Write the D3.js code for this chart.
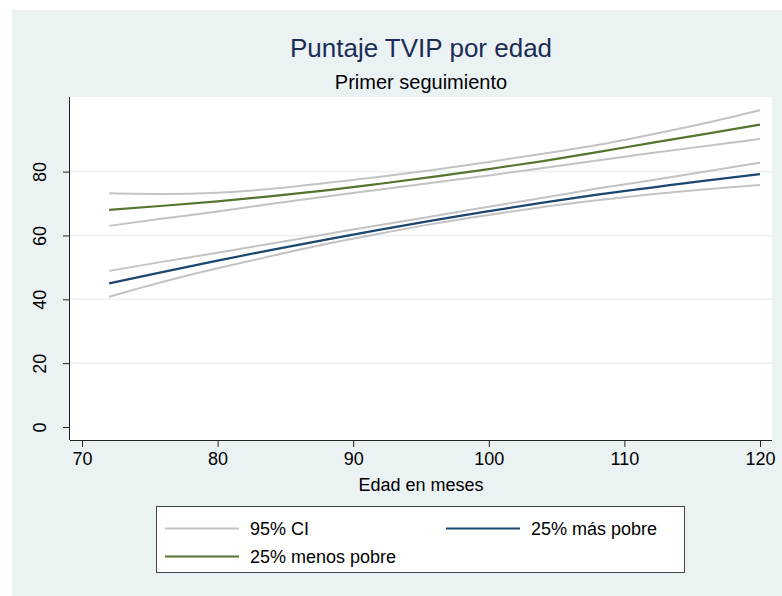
<!DOCTYPE html>
<html>
<head>
<meta charset="utf-8">
<script src="https://cdn.jsdelivr.net/npm/d3@7"></script>
<style>
  body { margin: 0; background: #ffffff; }
  text { font-family: "Liberation Sans", Arial, sans-serif; }
</style>
</head>
<body>
<div id="vis"></div>
<script>
// edad en meses
var ages = [72, 76, 80, 84, 88, 92, 96, 100, 104, 108, 112, 116, 120];

// 25% menos pobre, con IC 95%
var menos_pobre    = [68.0, 69.3, 70.7, 72.3, 74.1, 76.2, 78.4, 80.8, 83.3, 86.1, 89.0, 91.8, 94.7];
var menos_pobre_lo = [63.0, 65.3, 67.5, 69.9, 72.2, 74.4, 76.6, 78.8, 81.1, 83.5, 85.8, 88.0, 90.2];
var menos_pobre_hi = [73.2, 73.0, 73.4, 74.6, 76.4, 78.4, 80.6, 83.0, 85.6, 88.3, 91.6, 95.2, 99.2];

// 25% más pobre, con IC 95%
var mas_pobre    = [45.0, 48.6, 52.1, 55.5, 58.7, 61.8, 64.8, 67.6, 70.3, 72.8, 75.0, 77.2, 79.2];
var mas_pobre_lo = [40.8, 45.5, 49.7, 53.6, 57.3, 60.6, 63.7, 66.4, 68.9, 71.0, 72.9, 74.5, 75.8];
var mas_pobre_hi = [48.9, 51.8, 54.6, 57.5, 60.4, 63.3, 66.1, 69.0, 71.8, 74.7, 77.3, 80.0, 82.8];

var x_ticks = [70, 80, 90, 100, 110, 120];
var y_ticks = [0, 20, 40, 60, 80];
var legend_labels = ["95% CI", "25% más pobre", "25% menos pobre"];

var opts = {
  "width": 782,
  "height": 596,
  "bg": "#eaf2f3",
  "ci_color": "#c3c3c3",
  "navy": "#1a476f",
  "green": "#55752f"
};

var svg = d3.select("#vis")
  .append("svg")
  .attr("width", opts.width)
  .attr("height", opts.height);

svg.append("rect")
  .attr("x", 12).attr("y", 10)
  .attr("width", opts.width - 12)
  .attr("height", opts.height - 10)
  .attr("fill", opts.bg);

var plot = { left: 70, right: 772, top: 97, bottom: 440 };

var x = d3.scaleLinear().domain([70, 120]).range([82, 760]);
var y = d3.scaleLinear().domain([0, 80]).range([427, 171.6]);

svg.append("rect")
  .attr("x", plot.left).attr("y", plot.top)
  .attr("width", plot.right - plot.left)
  .attr("height", plot.bottom - plot.top)
  .attr("fill", "#ffffff");

// gridlines
svg.selectAll(".grid")
  .data(y_ticks.filter(function(d) { return d > 0; }))
  .enter()
  .append("line")
  .attr("x1", plot.left).attr("x2", plot.right)
  .attr("y1", function(d) { return y(d); })
  .attr("y2", function(d) { return y(d); })
  .attr("stroke", opts.bg)
  .attr("stroke-width", 1.5);

// axes
var x_axis = d3.axisBottom(x).tickValues(x_ticks).tickSize(7).tickPadding(5);
var gx = svg.append("g")
  .attr("transform", "translate(0," + plot.bottom + ")")
  .call(x_axis);
gx.select(".domain").attr("d", "M" + plot.left + ",0.5H" + plot.right).attr("stroke", "#222");
gx.selectAll(".tick line").attr("stroke", "#222");
gx.selectAll(".tick text")
  .attr("fill", "#000")
  .style("font-size", "18px");

var y_axis = d3.axisLeft(y).tickValues(y_ticks).tickSize(7).tickFormat(d3.format("d"));
var gy = svg.append("g")
  .attr("transform", "translate(" + plot.left + ",0)")
  .call(y_axis);
gy.select(".domain").attr("d", "M-0.5," + plot.top + "V" + plot.bottom).attr("stroke", "#222");
gy.selectAll(".tick line").attr("stroke", "#222");
gy.selectAll(".tick text")
  .attr("fill", "#000")
  .attr("x", null).attr("dy", null)
  .attr("text-anchor", "middle")
  .attr("transform", "translate(-24,0) rotate(-90)")
  .style("font-size", "18px");

// lines
var line = function(vals) {
  return d3.line()
    .x(function(d, i) { return x(ages[i]); })
    .y(function(d) { return y(d); })
    .curve(d3.curveMonotoneX)(vals);
};

var series = [
  { vals: menos_pobre_hi, color: opts.ci_color, w: 2 },
  { vals: menos_pobre_lo, color: opts.ci_color, w: 2 },
  { vals: mas_pobre_hi, color: opts.ci_color, w: 2 },
  { vals: mas_pobre_lo, color: opts.ci_color, w: 2 },
  { vals: mas_pobre, color: opts.navy, w: 2.2 },
  { vals: menos_pobre, color: opts.green, w: 2.2 }
];

svg.selectAll(".series")
  .data(series)
  .enter()
  .append("path")
  .attr("d", function(d) { return line(d.vals); })
  .attr("fill", "none")
  .attr("stroke", function(d) { return d.color; })
  .attr("stroke-width", function(d) { return d.w; });

// titles
svg.append("text")
  .attr("x", 421).attr("y", 57)
  .attr("text-anchor", "middle")
  .attr("fill", "#1c2d55")
  .style("font-size", "26px")
  .text("Puntaje TVIP por edad");

svg.append("text")
  .attr("x", 421).attr("y", 88.5)
  .attr("text-anchor", "middle")
  .attr("fill", "#000")
  .style("font-size", "20px")
  .text("Primer seguimiento");

svg.append("text")
  .attr("x", 421).attr("y", 490.5)
  .attr("text-anchor", "middle")
  .attr("fill", "#000")
  .style("font-size", "18px")
  .text("Edad en meses");

// legend
svg.append("rect")
  .attr("x", 156.5).attr("y", 506.5)
  .attr("width", 528).attr("height", 66)
  .attr("fill", "#fff")
  .attr("stroke", "#444")
  .attr("stroke-width", 1);

var legend_items = [
  { label: legend_labels[0], color: opts.ci_color, lx: 165, ly: 528.5 },
  { label: legend_labels[1], color: opts.navy, lx: 446, ly: 528.5 },
  { label: legend_labels[2], color: opts.green, lx: 165, ly: 556.5 }
];

var lg = svg.selectAll(".legend")
  .data(legend_items)
  .enter()
  .append("g");

lg.append("line")
  .attr("x1", function(d) { return d.lx; })
  .attr("x2", function(d) { return d.lx + 74; })
  .attr("y1", function(d) { return d.ly; })
  .attr("y2", function(d) { return d.ly; })
  .attr("stroke", function(d) { return d.color; })
  .attr("stroke-width", 2);

lg.append("text")
  .attr("x", function(d) { return d.lx + 85; })
  .attr("y", function(d) { return d.ly + 6.5; })
  .attr("fill", "#000")
  .style("font-size", "18px")
  .text(function(d) { return d.label; });
</script>
</body>
</html>
